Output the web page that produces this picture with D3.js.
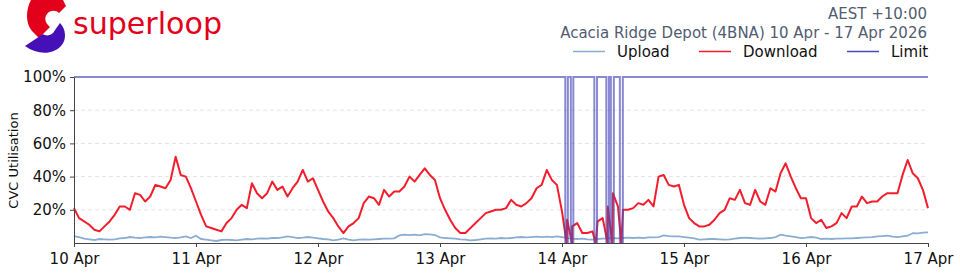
<!DOCTYPE html>
<html>
<head>
<meta charset="utf-8">
<script src="https://cdn.jsdelivr.net/npm/d3@7"></script>
<style>
  body { margin: 0; background: #fff; }
  text { font-family: "DejaVu Sans", sans-serif; }
</style>
</head>
<body>
<svg id="chart" width="960" height="274"></svg>
<script>
// ---- data (hourly samples, 10 Apr 00:00 -> 17 Apr 00:00) ----
var startDate = new Date(2026, 3, 10);
var dayLabels = ["10 Apr", "11 Apr", "12 Apr", "13 Apr", "14 Apr", "15 Apr", "16 Apr", "17 Apr"];
var yTicks = [20, 40, 60, 80, 100];
var seriesNames = ["Upload", "Download", "Limit"];

// download utilisation %, one value per hour
var download = [
  21,15,13,11,8,7,10,13,17,22,22,20,30,29,25,28,35,34,33,38,52,41,40,33,
  25,17,10,9,8,7,12,15,20,23,21,36,30,27,30,37,32,34,28,33,37,44,37,39,
  32,25,19,15,10,6,10,12,15,24,28,27,23,32,28,31,31,34,40,37,41,45,41,38,
  27,20,14,9,6,6,9,12,15,18,19,20,20,21,26,23,22,24,27,33,35,44,38,35,
  19,14,10,12,6,6,7,13,15,22,30,22,20,20,21,24,23,26,22,40,41,35,34,35,
  23,15,12,10,10,11,14,18,20,27,26,32,24,23,32,25,23,33,31,42,48,40,33,27,
  27,15,12,14,9,10,12,18,15,22,22,28,24,25,25,28,30,30,30,41,50,42,39,32,21
];

// upload utilisation %, one value per hour
var upload = [
  4.2,3.5,2.6,2.2,1.8,2.4,2.2,2.0,2.2,2.8,3.0,3.6,3.2,3.0,3.4,3.6,3.4,3.8,3.6,3.2,3.0,3.4,4.0,3.0,
  4.4,2.4,2.0,1.6,1.2,1.8,2.0,1.8,1.6,2.0,2.4,2.2,2.6,2.8,2.6,3.0,3.0,3.4,4.0,3.6,3.0,3.2,3.6,3.2,
  2.8,2.4,2.2,1.6,2.0,2.8,2.0,1.6,2.0,2.2,2.0,2.2,2.4,2.6,2.6,2.8,4.6,5.0,4.8,5.0,4.6,5.4,5.2,4.8,
  3.4,3.0,2.8,2.6,2.2,2.0,1.6,1.8,2.2,2.6,2.8,2.6,3.0,2.8,3.0,3.4,3.6,3.4,3.6,3.8,3.6,3.8,3.6,4.0,
  3.6,3.0,2.6,2.4,2.6,2.2,2.0,2.4,2.6,2.8,3.0,2.8,3.0,3.2,3.0,3.2,3.0,3.4,3.4,3.6,4.6,4.2,4.0,4.0,
  3.6,3.2,2.8,2.0,2.2,2.4,2.4,2.2,2.0,2.2,2.6,3.0,3.2,3.0,2.8,2.6,2.8,3.0,3.6,5.0,4.4,4.0,3.6,3.0,
  3.2,3.6,3.2,2.4,2.6,2.4,2.6,2.6,2.8,2.8,3.0,3.2,3.4,3.6,4.0,4.2,4.4,3.8,3.6,4.0,4.4,6.0,5.8,6.2,6.4
];

// limit outages on 14 Apr: [start hour, end hour] where limit fell to 0
var outages = [
  [96.65, 97.15], [97.74, 98.23], [102.36, 102.89],
  [104.72, 105.22], [105.61, 106.2], [107.38, 107.97]
];

var colors = {"Upload": "#8aaed2", "Download": "#f31d2c", "Limit": "#4848bc"};

// ---- setup ----
var svg = d3.select("#chart"),
    margin = {top: 77, right: 32, bottom: 31, left: 74},
    width = +svg.attr("width") - margin.left - margin.right,
    height = +svg.attr("height") - margin.top - margin.bottom,
    g = svg.append("g").attr("transform", "translate(" + margin.left + "," + margin.top + ")");

function hourToDate(h) { return new Date(startDate.getTime() + h * 3600e3); }

var x = d3.scaleTime()
    .domain([startDate, hourToDate(168)])
    .range([0, width]);

var y = d3.scaleLinear()
    .domain([0, 100])
    .range([height, 0]);

// build series
var uploadSeries = upload.map(function(v, i) { return {t: i, v: v}; });
var downloadSeries = download.map(function(v, i) { return {t: i, v: v}; });
outages.forEach(function(o) { downloadSeries.push({t: (o[0] + o[1]) / 2, v: 0}); });
downloadSeries.sort(function(a, b) { return a.t - b.t; });

var limitSeries = [{t: 0, v: 100}];
outages.forEach(function(o) {
  limitSeries.push({t: o[0], v: 0});
  limitSeries.push({t: o[1], v: 100});
});
limitSeries.push({t: 168, v: 100});

// grid
g.append("g")
  .selectAll("line")
  .data(yTicks.slice(0, -1))
  .enter().append("line")
    .attr("x1", 0).attr("x2", width)
    .attr("y1", function(d) { return y(d); })
    .attr("y2", function(d) { return y(d); })
    .attr("stroke", "#e4e4e4")
    .attr("stroke-width", 1)
    .attr("stroke-dasharray", "4,3");

var line = d3.line()
    .x(function(d) { return x(hourToDate(d.t)); })
    .y(function(d) { return y(d.v); });

g.append("path").datum(uploadSeries)
    .attr("fill", "none").attr("stroke", colors.Upload).attr("stroke-width", 1.8)
    .attr("d", line);

g.append("path").datum(downloadSeries)
    .attr("fill", "none").attr("stroke", colors.Download).attr("stroke-width", 2)
    .attr("stroke-linejoin", "round")
    .attr("d", line);

g.append("path").datum(limitSeries)
    .attr("fill", "none").attr("stroke", colors.Limit).attr("stroke-width", 2)
    .attr("stroke-opacity", 0.65)
    .attr("d", line.curve(d3.curveStepAfter));

// axes
var xAxis = g.append("g")
    .attr("transform", "translate(0," + height + ")")
    .call(d3.axisBottom(x)
        .tickValues(dayLabels.map(function(d, i) { return hourToDate(i * 24); }))
        .tickFormat(function(d, i) { return dayLabels[i]; })
        .tickSize(4).tickSizeOuter(0).tickPadding(6));

var yAxis = g.append("g")
    .call(d3.axisLeft(y)
        .tickValues(yTicks)
        .tickFormat(function(d) { return d + "%"; })
        .tickSize(4).tickSizeOuter(0).tickPadding(4));

[xAxis, yAxis].forEach(function(a) {
  a.attr("font-family", "DejaVu Sans").attr("font-size", 15);
  a.selectAll("text").attr("fill", "#111");
  a.select(".domain").attr("stroke", "#444");
  a.selectAll(".tick line").attr("stroke", "#444");
});

svg.append("text")
    .attr("transform", "rotate(-90)")
    .attr("x", -160.5)
    .attr("y", 18)
    .attr("text-anchor", "middle")
    .attr("font-size", 13)
    .attr("fill", "#111")
    .text("CVC Utilisation");

// header
svg.append("text")
    .attr("x", 927).attr("y", 19)
    .attr("text-anchor", "end")
    .attr("font-size", 15).attr("fill", "#525c70")
    .text("AEST +10:00");

svg.append("text")
    .attr("x", 927).attr("y", 37.5)
    .attr("text-anchor", "end")
    .attr("font-size", 15).attr("fill", "#525c70")
    .text("Acacia Ridge Depot (4BNA) 10 Apr - 17 Apr 2026");

// legend
var legendX = [573, 699, 847];
var legend = svg.selectAll(".legend")
    .data(seriesNames)
    .enter().append("g")
    .attr("class", "legend")
    .attr("transform", function(d, i) { return "translate(" + legendX[i] + ",0)"; });

legend.append("line")
    .attr("x1", 0).attr("x2", 32)
    .attr("y1", 51.5).attr("y2", 51.5)
    .attr("stroke", function(d) { return colors[d]; })
    .attr("stroke-width", 1.5);

legend.append("text")
    .attr("x", 44).attr("y", 56.5)
    .attr("font-size", 15).attr("fill", "#111")
    .text(function(d) { return d; });

// logo
var logo = svg.append("g");
logo.append("path")
    .attr("fill", "#e3001b")
    .attr("d", "M63,0 L31,0 C26,9 25,23 32,31 L39,38 L50,27 C45,23 44,18 47,14 C50,10 56,10 59,13 L66,6 Z");
logo.append("path")
    .attr("fill", "#4510b8")
    .attr("d", "M25,46 L43,34 C47,37 53,35 55,30 L60,23 C66,29 67,40 61,46 C53,55 37,55 25,46 Z");
logo.append("text")
    .attr("x", 73).attr("y", 34)
    .attr("font-family", "Open Sans, sans-serif")
    .attr("font-size", 30).attr("font-weight", 500)
    .attr("fill", "#e3001b")
    .attr("textLength", 149).attr("lengthAdjust", "spacingAndGlyphs")
    .text("superloop");
</script>
</body>
</html>
